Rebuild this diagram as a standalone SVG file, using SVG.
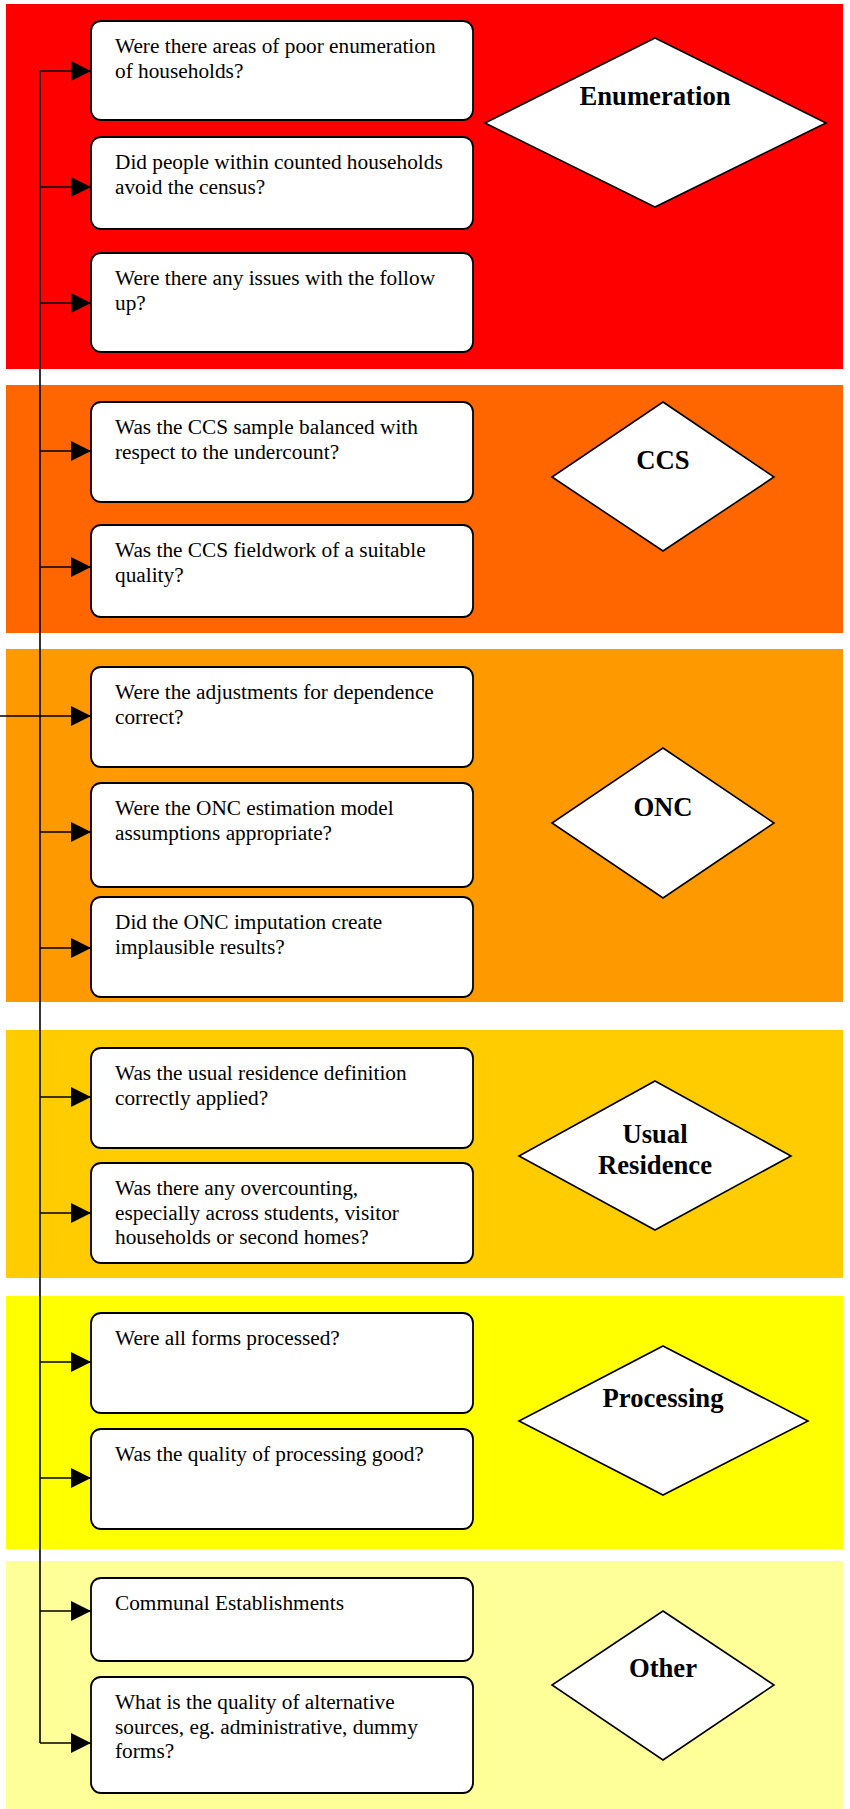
<svg xmlns="http://www.w3.org/2000/svg" width="850" height="1809" viewBox="0 0 850 1809">
<style>
.box{fill:#fff;stroke:#000;stroke-width:1.8}
.dia{fill:#fff;stroke:#000;stroke-width:1.6}
.t{font-family:"Liberation Serif","Times New Roman",serif;font-size:21.3px;fill:#000}
.h{font-family:"Liberation Serif","Times New Roman",serif;font-size:26.67px;font-weight:bold;fill:#000;text-anchor:middle}
.c{fill:none;stroke:#000;stroke-width:1.6}
</style>
<defs>
<marker id="ah" markerUnits="userSpaceOnUse" markerWidth="20" markerHeight="20" refX="20" refY="10" orient="auto" viewBox="0 0 20 20">
<path d="M0,0 L20,10 L0,20 z" fill="#000"/>
</marker>
</defs>
<rect width="850" height="1809" fill="#fff"/>
<g id="bands">
<rect x="6" y="4" width="837" height="365" fill="#FF0000"/>
<rect x="6" y="385" width="837" height="248" fill="#FF6600"/>
<rect x="6" y="649" width="837" height="353" fill="#FF9900"/>
<rect x="6" y="1030" width="837" height="248" fill="#FFCC00"/>
<rect x="6" y="1296" width="837" height="253" fill="#FFFF00"/>
<rect x="6" y="1561" width="837" height="248" fill="#FFFF99"/>
</g>
<g id="connectors">
<path class="c" d="M40,71 V1743"/>
<path class="c" d="M0,716 H40"/>
<path class="c" marker-end="url(#ah)" d="M40,71 H91"/>
<path class="c" marker-end="url(#ah)" d="M40,187 H91"/>
<path class="c" marker-end="url(#ah)" d="M40,303 H91"/>
<path class="c" marker-end="url(#ah)" d="M40,451 H91"/>
<path class="c" marker-end="url(#ah)" d="M40,567 H91"/>
<path class="c" marker-end="url(#ah)" d="M40,716 H91"/>
<path class="c" marker-end="url(#ah)" d="M40,832 H91"/>
<path class="c" marker-end="url(#ah)" d="M40,948 H91"/>
<path class="c" marker-end="url(#ah)" d="M40,1097 H91"/>
<path class="c" marker-end="url(#ah)" d="M40,1213 H91"/>
<path class="c" marker-end="url(#ah)" d="M40,1362 H91"/>
<path class="c" marker-end="url(#ah)" d="M40,1478 H91"/>
<path class="c" marker-end="url(#ah)" d="M40,1611 H91"/>
<path class="c" marker-end="url(#ah)" d="M40,1743 H91"/>
</g>
<g id="e1"><rect class="box" x="91" y="21" width="382" height="99" rx="10"/><text class="t" x="115" y="53">Were there areas of poor enumeration</text><text class="t" x="115" y="77.5">of households?</text></g>
<g id="e2"><rect class="box" x="91" y="137" width="382" height="92" rx="10"/><text class="t" x="115" y="169">Did people within counted households</text><text class="t" x="115" y="193.5">avoid the census?</text></g>
<g id="e3"><rect class="box" x="91" y="253" width="382" height="99" rx="10"/><text class="t" x="115" y="285">Were there any issues with the follow</text><text class="t" x="115" y="309.5">up?</text></g>
<g id="enumeration"><polygon class="dia" points="655,38 826,123 655,207 485,123"/><text class="h" x="655" y="105">Enumeration</text></g>
<g id="c1"><rect class="box" x="91" y="402" width="382" height="100" rx="10"/><text class="t" x="115" y="434">Was the CCS sample balanced with</text><text class="t" x="115" y="458.5">respect to the undercount?</text></g>
<g id="c2"><rect class="box" x="91" y="525" width="382" height="92" rx="10"/><text class="t" x="115" y="557">Was the CCS fieldwork of a suitable</text><text class="t" x="115" y="581.5">quality?</text></g>
<g id="ccs"><polygon class="dia" points="663,402 774,477 663,551 552,477"/><text class="h" x="663" y="469">CCS</text></g>
<g id="o1"><rect class="box" x="91" y="667" width="382" height="100" rx="10"/><text class="t" x="115" y="699">Were the adjustments for dependence</text><text class="t" x="115" y="723.5">correct?</text></g>
<g id="o2"><rect class="box" x="91" y="783" width="382" height="104" rx="10"/><text class="t" x="115" y="815">Were the ONC estimation model</text><text class="t" x="115" y="839.5">assumptions appropriate?</text></g>
<g id="o3"><rect class="box" x="91" y="897" width="382" height="100" rx="10"/><text class="t" x="115" y="929">Did the ONC imputation create</text><text class="t" x="115" y="953.5">implausible results?</text></g>
<g id="onc"><polygon class="dia" points="663,748 774,823 663,898 552,823"/><text class="h" x="663" y="816">ONC</text></g>
<g id="u1"><rect class="box" x="91" y="1048" width="382" height="100" rx="10"/><text class="t" x="115" y="1080">Was the usual residence definition</text><text class="t" x="115" y="1104.5">correctly applied?</text></g>
<g id="u2"><rect class="box" x="91" y="1163" width="382" height="100" rx="10"/><text class="t" x="115" y="1195">Was there any overcounting,</text><text class="t" x="115" y="1219.5">especially across students, visitor</text><text class="t" x="115" y="1244">households or second homes?</text></g>
<g id="usual-residence"><polygon class="dia" points="655,1081 791,1156 655,1230 519,1156"/><text class="h" x="655" y="1143">Usual</text><text class="h" x="655" y="1174">Residence</text></g>
<g id="p1"><rect class="box" x="91" y="1313" width="382" height="100" rx="10"/><text class="t" x="115" y="1345">Were all forms processed?</text></g>
<g id="p2"><rect class="box" x="91" y="1429" width="382" height="100" rx="10"/><text class="t" x="115" y="1461">Was the quality of processing good?</text></g>
<g id="processing"><polygon class="dia" points="663,1346 808,1421 663,1495 519,1421"/><text class="h" x="663" y="1407">Processing</text></g>
<g id="x1"><rect class="box" x="91" y="1578" width="382" height="83" rx="10"/><text class="t" x="115" y="1610">Communal Establishments</text></g>
<g id="x2"><rect class="box" x="91" y="1677" width="382" height="116" rx="10"/><text class="t" x="115" y="1709">What is the quality of alternative</text><text class="t" x="115" y="1733.5">sources, eg. administrative, dummy</text><text class="t" x="115" y="1758">forms?</text></g>
<g id="other"><polygon class="dia" points="663,1611 774,1685 663,1760 552,1685"/><text class="h" x="663" y="1677">Other</text></g>
</svg>
